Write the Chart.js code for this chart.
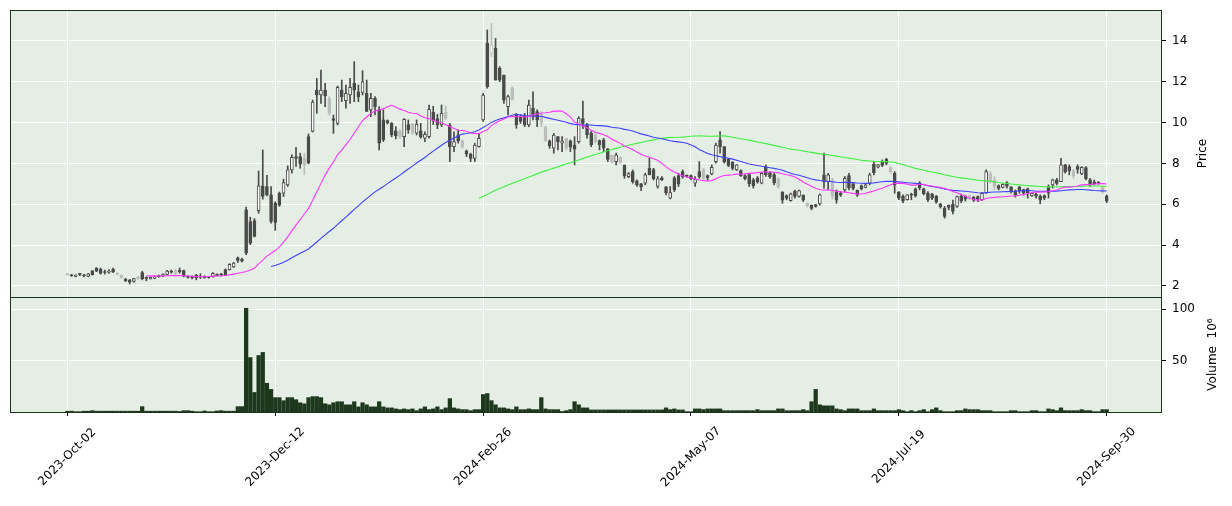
<!DOCTYPE html>
<html>
<head>
<meta charset="utf-8">
<script src="https://cdn.jsdelivr.net/npm/chart.js@4.4.0/dist/chart.umd.min.js"></script>
<style>
  html, body { margin: 0; padding: 0; background: #ffffff; }
  #wrap { position: relative; width: 1232px; height: 506px; }
</style>
</head>
<body>
<div id="wrap"><canvas id="chart" width="1232" height="506"></canvas></div>
<script>
// trading-day index of each labelled tick, and its label
const tickIndex = [0, 50, 100, 150, 200, 250];
const tickLabels = ['2023-Oct-02', '2023-Dec-12', '2024-Feb-26', '2024-May-07', '2024-Jul-19', '2024-Sep-30'];
const priceTicks = [2, 4, 6, 8, 10, 12, 14];
const volumeTicks = [50, 100];

const opens = [
  2.58,2.53,2.47,2.59,2.53,2.47,2.74,2.88,2.82,2.70,
  2.66,2.82,2.62,2.52,2.33,2.30,2.22,2.45,2.65,2.40,
  2.34,2.37,2.49,2.48,2.57,2.71,2.74,2.76,2.75,2.48,
  2.45,2.52,2.48,2.47,2.45,2.45,2.56,2.55,2.80,2.80,
  2.93,3.38,3.30,5.73,5.15,5.20,5.69,6.90,6.87,6.46,
  6.05,6.54,6.54,6.95,7.68,8.33,8.33,8.25,9.31,9.56,
  11.59,11.35,11.59,11.19,10.20,9.96,11.59,11.07,11.35,11.92,
  11.51,11.48,11.43,10.62,11.19,10.62,10.13,10.10,9.96,9.60,
  9.60,9.31,9.90,9.95,9.48,9.60,9.23,9.31,10.50,10.20,
  9.88,10.50,9.88,8.82,9.40,9.10,8.60,8.45,8.25,8.82,
  10.13,13.88,13.39,13.63,12.66,12.33,10.78,11.70,10.40,10.30,
  10.30,9.88,10.70,10.54,10.45,9.80,9.10,8.74,9.31,8.99,
  9.23,9.10,8.90,9.07,10.20,9.90,9.50,9.40,9.12,9.15,
  8.70,8.40,8.09,8.30,7.90,7.35,7.60,7.15,7.00,7.03,
  7.76,7.70,6.87,7.30,6.85,6.30,7.30,7.40,7.60,7.42,
  7.40,7.03,7.60,7.70,7.40,7.49,8.09,9.15,8.82,8.20,
  8.05,7.68,7.65,7.40,7.45,7.20,7.30,7.03,7.85,7.55,
  7.45,7.25,6.60,6.42,6.18,6.65,6.38,6.45,6.05,5.95,
  5.98,6.02,7.44,7.11,7.20,6.60,6.55,6.70,7.40,7.00,
  6.68,6.90,6.83,7.03,7.95,7.81,8.10,8.20,7.80,7.52,
  6.60,6.40,6.22,6.50,6.75,7.05,6.75,6.55,6.50,6.40,
  6.00,5.80,5.95,6.00,5.89,6.40,6.40,6.42,6.35,6.38,
  6.22,6.54,7.50,7.20,6.92,6.83,7.05,6.85,6.65,6.85,
  6.72,6.75,6.41,6.50,6.40,6.42,6.87,6.95,7.20,7.11,
  7.93,7.85,7.65,7.85,7.49,7.80,7.20,7.10,7.08,6.85,
  6.40
];
const highs = [
  2.62,2.57,2.55,2.62,2.57,2.62,2.76,2.90,2.88,2.78,
  2.80,2.88,2.65,2.54,2.38,2.32,2.38,2.47,2.72,2.45,
  2.45,2.48,2.53,2.60,2.76,2.78,2.83,2.88,2.78,2.50,
  2.50,2.57,2.60,2.50,2.47,2.65,2.60,2.62,2.83,3.09,
  3.15,3.42,3.36,5.86,5.37,5.30,7.63,8.66,7.42,6.87,
  6.13,6.60,7.23,7.88,8.42,8.79,8.50,8.50,9.44,11.10,
  12.16,12.57,11.92,11.27,10.37,11.79,12.08,11.84,12.16,12.98,
  11.84,12.54,12.08,11.43,11.27,10.78,10.62,10.13,10.00,9.80,
  9.65,10.20,10.13,9.96,10.13,9.96,9.55,10.86,10.80,10.40,
  10.86,10.80,9.96,9.55,9.64,9.15,8.66,8.50,8.99,9.47,
  11.43,14.53,14.85,14.12,12.74,12.33,11.35,11.75,10.45,10.37,
  10.45,11.10,11.51,10.62,10.54,9.80,9.15,9.47,9.31,9.31,
  9.23,9.15,9.31,10.29,11.05,9.96,9.56,9.56,9.15,9.23,
  8.74,8.42,8.50,8.33,7.93,7.55,7.68,7.19,7.03,7.52,
  8.25,7.76,7.36,7.36,6.87,6.87,7.36,7.52,7.68,7.44,
  7.44,7.36,8.09,7.76,7.44,7.93,8.99,9.56,8.82,8.25,
  8.09,7.95,7.68,7.44,7.52,7.27,7.36,7.54,7.93,7.60,
  7.52,7.30,6.62,6.46,6.55,6.70,6.70,6.46,6.08,5.97,
  6.00,6.50,8.50,7.52,7.27,6.70,6.62,7.36,7.52,7.03,
  6.70,6.95,7.00,7.52,8.09,7.95,8.17,8.25,7.84,7.60,
  6.62,6.46,6.48,6.54,6.79,7.11,6.79,6.62,6.54,6.43,
  6.05,5.89,5.97,6.21,6.40,6.50,6.42,6.46,6.38,6.41,
  6.58,7.68,7.60,7.36,6.95,7.00,7.11,6.87,6.70,6.87,
  6.74,6.79,6.56,6.54,6.46,6.46,6.95,7.23,7.27,8.25,
  7.95,7.93,7.71,7.93,7.84,7.84,7.27,7.19,7.11,6.87,
  6.46
];
const lows = [
  2.53,2.47,2.45,2.50,2.44,2.45,2.53,2.70,2.58,2.58,
  2.62,2.65,2.55,2.38,2.22,2.10,2.18,2.32,2.30,2.25,
  2.33,2.35,2.43,2.45,2.55,2.62,2.50,2.62,2.45,2.38,
  2.34,2.30,2.36,2.38,2.38,2.43,2.49,2.48,2.50,2.78,
  2.90,3.15,3.18,3.53,4.02,4.40,5.56,6.25,6.41,5.07,
  4.72,5.90,6.38,6.87,7.52,7.85,7.76,7.44,7.98,9.54,
  10.45,10.94,10.78,10.37,9.47,9.88,11.02,10.70,10.94,11.02,
  11.02,11.35,10.54,10.29,10.37,8.66,9.07,9.93,9.30,9.20,
  9.22,8.82,9.47,9.40,9.39,9.23,9.07,9.23,9.90,9.70,
  9.80,10.15,8.09,8.58,8.99,8.74,8.33,8.09,8.09,8.79,
  10.05,11.68,13.23,12.08,12.00,10.94,10.37,11.10,9.72,9.96,
  9.80,9.80,10.13,9.80,9.80,9.07,8.74,8.50,8.66,8.58,
  8.66,8.58,7.93,8.99,9.70,9.23,8.82,8.99,8.66,8.58,
  8.09,8.01,7.93,8.01,7.27,7.30,7.03,6.87,6.67,6.95,
  7.44,7.19,6.79,7.16,6.46,6.26,6.62,6.87,7.27,7.32,
  7.19,6.87,7.27,7.19,7.19,7.44,8.01,8.50,8.01,7.84,
  7.68,7.65,7.36,7.19,6.87,6.79,7.03,7.00,7.36,7.27,
  6.95,6.79,6.05,6.22,6.15,6.30,6.35,6.13,5.86,5.73,
  5.86,5.95,6.79,6.70,6.25,6.05,6.38,6.62,6.70,6.70,
  6.38,6.70,6.80,6.95,7.44,7.78,7.84,7.93,7.52,6.54,
  6.22,6.08,6.20,6.22,6.35,6.70,6.46,6.13,6.22,6.05,
  5.81,5.32,5.73,5.53,5.85,6.08,6.15,6.22,6.13,6.13,
  6.18,6.54,7.03,6.70,6.70,6.80,6.79,6.54,6.35,6.54,
  6.46,6.30,6.38,6.30,6.02,6.22,6.30,6.79,6.95,7.11,
  7.52,7.44,7.27,7.52,7.45,7.19,6.87,6.95,6.98,6.54,
  6.08
];
const closes = [
  2.55,2.50,2.53,2.57,2.50,2.60,2.55,2.72,2.62,2.66,
  2.72,2.70,2.56,2.40,2.25,2.18,2.36,2.34,2.36,2.37,
  2.42,2.45,2.46,2.58,2.73,2.68,2.60,2.70,2.48,2.42,
  2.40,2.40,2.44,2.41,2.42,2.62,2.52,2.53,2.55,3.06,
  3.12,3.25,3.22,3.61,4.10,4.42,6.90,6.38,6.46,5.16,
  5.11,5.95,7.06,7.68,8.30,8.24,7.98,7.93,8.01,11.00,
  11.35,11.59,11.30,10.45,10.10,11.72,11.27,11.43,11.72,11.59,
  11.27,12.00,10.54,11.19,10.78,8.99,9.15,10.00,9.40,9.35,
  9.30,10.16,9.64,9.50,9.93,9.30,9.42,10.65,10.10,9.90,
  10.45,10.20,8.82,9.07,9.10,8.82,8.45,8.25,8.90,9.23,
  11.35,11.76,13.80,12.08,12.08,11.10,11.27,11.12,9.90,10.05,
  9.90,10.86,10.30,10.13,10.00,9.10,8.85,9.39,9.07,9.11,
  8.74,8.80,8.70,10.21,9.96,9.40,8.90,9.05,8.90,8.74,
  8.20,8.05,8.41,8.05,7.40,7.50,7.10,6.95,6.85,7.44,
  7.44,7.25,7.24,7.20,6.55,6.57,6.70,7.00,7.35,7.36,
  7.25,7.22,7.35,7.25,7.30,7.81,8.90,8.82,8.09,7.90,
  7.75,7.93,7.40,7.25,7.00,6.90,7.10,7.52,7.45,7.35,
  7.05,6.85,6.20,6.30,6.51,6.38,6.67,6.20,5.92,5.80,
  5.90,6.46,7.11,7.44,6.40,6.20,6.45,7.27,6.80,6.78,
  6.45,6.75,6.95,7.44,7.55,7.93,7.90,8.00,7.58,6.95,
  6.30,6.15,6.46,6.45,6.42,6.80,6.52,6.22,6.30,6.10,
  5.88,5.40,5.85,5.65,6.38,6.15,6.25,6.30,6.20,6.25,
  6.54,7.60,7.10,6.85,6.78,6.98,6.88,6.62,6.45,6.65,
  6.55,6.55,6.54,6.40,6.20,6.30,6.54,7.19,7.02,7.93,
  7.60,7.65,7.40,7.70,7.81,7.25,6.95,7.00,7.02,6.60,
  6.15
];
// volume in millions
const volumes = [
  0.8,0.8,0.3,0.3,0.8,0.8,1.3,0.8,0.8,0.8,
  0.8,0.8,0.8,0.8,0.8,0.8,0.8,0.8,5.2,0.8,
  0.8,0.8,0.8,0.8,0.8,0.8,0.8,0.5,1.3,1.3,
  0.8,0.3,0.3,1.0,0.3,0.3,1.0,1.3,0.8,0.8,
  0.8,5.2,5.2,101,53,19,55,58,28,22,
  14,14,11,14,14,12,9,8,14,15,
  15,14,8,7,9,10,10,7,7,10,
  5,9,7,5,5,10,5,4,4,3,
  2.3,3,2.3,3,1.3,3,5,2.3,3,5,
  2.3,4,13,4,3,2.3,2.3,1.3,2.3,2.3,
  17,18,11,7,4,4,3,2.3,5,2.3,
  2.3,3,2.3,2.3,14,3,2.3,2.3,2.3,0.5,
  1.3,2.3,10,7,4,4,2,2,2,2,
  2,2,2,2,2,2,2,2,2,2,
  2,2,2,2,4,2.3,3,2,2,0.3,
  0.3,3,3,2.3,3,3,3,3,1.3,1.3,
  1.3,1.3,1.3,1.3,1.3,1.3,2.3,1.3,1.3,1.3,
  1.3,3,3,1.3,1.3,1.3,1.3,2.3,1.3,10,
  22,7,6,6,6,3,2.3,1.3,3,3,
  3,1.3,1.3,1.3,3,1.3,1.3,1.3,1.3,1.3,
  2.3,1.3,0.3,1.3,0.3,1.3,2.3,0.3,2.3,4,
  1.3,0.3,0.3,0.3,1.3,1.3,3,2.3,2.3,2.3,
  1.3,1.3,1.3,0.3,0.3,0.3,0.3,1.3,1.3,0.3,
  0.3,0.3,1.3,1.3,0.3,0.3,3,2.3,1.3,4,
  1.3,1.3,1.3,1.3,2.3,1.3,1.3,0.3,0.3,2.3,
  2.3
];
// candles drawn in the light grey shade
const greyDays = [0,12,13,17,26,57,63,80,83,91,95,102,107,114,115,120,127,131,133,153,171,178,184,198,217,222,223,242,249];
const maWindows = [20, 50, 100];
const maColors = ['#ff33ff', '#4040ff', '#40f040'];

const panelColor = '#e4eee4';
const frameColor = '#1b341b';
const candleColor = '#4a4a4a';
const greyColor = '#bdbdbd';
const hollowColor = '#ffffff';
const volumeColor = '#1d381d';

function movingAverage(values, n) {
  const out = [];
  let sum = 0;
  values.forEach((v, i) => {
    sum += v;
    if (i >= n) sum -= values[i - n];
    if (i >= n - 1) out.push({ x: i, y: sum / n });
  });
  return out;
}

const edge = closes.map((c, i) => greyDays.includes(i) ? greyColor : candleColor);
const fill = closes.map((c, i) => c > opens[i] ? hollowColor : edge[i]);

const datasets = [
  {
    type: 'bar', label: 'wick', yAxisID: 'y', order: 5, grouped: false,
    data: closes.map((c, i) => ({ x: i, y: [lows[i], highs[i]] })),
    backgroundColor: edge, barThickness: 1, minBarLength: 1
  },
  {
    type: 'bar', label: 'body', yAxisID: 'y', order: 4, grouped: false,
    data: closes.map((c, i) => ({ x: i, y: [opens[i], c] })),
    backgroundColor: fill, borderColor: edge, borderWidth: 1, borderSkipped: false,
    barThickness: 3, minBarLength: 1
  },
  {
    type: 'bar', label: 'volume', yAxisID: 'yv', order: 6, grouped: false,
    data: volumes.map((v, i) => ({ x: i, y: v })),
    backgroundColor: volumeColor, barThickness: 3.6
  }
];
maWindows.forEach((w, k) => {
  datasets.push({
    type: 'line', label: 'mav' + w, yAxisID: 'y', order: 1 + k,
    data: movingAverage(closes, w),
    borderColor: maColors[k], borderWidth: 1.1, pointRadius: 0, tension: 0
  });
});

function rotatedText(ctx, text, x, y, angle) {
  ctx.save();
  ctx.translate(x, y);
  ctx.rotate(angle);
  ctx.fillText(text, 0, 0);
  ctx.restore();
}

const panels = {
  id: 'panels',
  beforeDraw(chart) {
    const { ctx, chartArea: a } = chart;
    ctx.save();
    ctx.fillStyle = '#ffffff';
    ctx.fillRect(0, 0, chart.width, chart.height);
    ctx.fillStyle = panelColor;
    ctx.fillRect(a.left, a.top, a.right - a.left, a.bottom - a.top);
    ctx.restore();
  },
  afterDraw(chart) {
    const { ctx, chartArea: a, scales } = chart;
    ctx.save();
    ctx.strokeStyle = frameColor;
    ctx.lineWidth = 1;
    [scales.y, scales.yv].forEach(s => {
      ctx.strokeRect(Math.round(a.left) + 0.5, Math.round(s.top) + 0.5,
        Math.round(a.right - a.left) - 1, Math.round(s.bottom - s.top));
    });
    ctx.fillStyle = '#000000';
    ctx.font = '12px "DejaVu Sans"';
    ctx.textAlign = 'center';
    ctx.textBaseline = 'middle';
    rotatedText(ctx, 'Price', 1203, (scales.y.top + scales.y.bottom) / 2, -Math.PI / 2);
    rotatedText(ctx, 'Volume  10\u2076', 1213, (scales.yv.top + scales.yv.bottom) / 2, -Math.PI / 2);
    tickIndex.forEach((v, k) => {
      rotatedText(ctx, tickLabels[k], scales.x.getPixelForValue(v), 457, -Math.PI / 4);
    });
    ctx.restore();
  }
};

const tickFont = { family: 'DejaVu Sans', size: 12 };
function fitRightAxis(s) {
  s.width = 70;
  s.paddingTop = 0;
  s.paddingBottom = 0;
}

new Chart(document.getElementById('chart'), {
  type: 'bar',
  data: { datasets },
  plugins: [panels],
  options: {
    responsive: false,
    animation: false,
    events: [],
    layout: { padding: { left: 10, top: 10, right: 0, bottom: 0 } },
    plugins: { legend: { display: false }, tooltip: { enabled: false } },
    scales: {
      x: {
        type: 'linear', position: 'bottom', min: -13.8, max: 263.3, offset: false,
        afterBuildTicks: s => { s.ticks = tickIndex.map(v => ({ value: v })); },
        afterFit: s => { s.height = 94; s.paddingLeft = 0; s.paddingRight = 0; },
        ticks: { display: false },
        grid: { offset: false, color: '#ffffff', lineWidth: 1, tickColor: '#000000', tickLength: 4 },
        border: { display: false }
      },
      y: {
        type: 'linear', position: 'right', stack: 'panels', stackWeight: 287,
        min: 1.46, max: 15.51,
        afterBuildTicks: s => { s.ticks = priceTicks.map(v => ({ value: v })); },
        afterFit: fitRightAxis,
        ticks: { color: '#000000', font: tickFont, padding: 6 },
        grid: { color: '#ffffff', lineWidth: 1, tickColor: '#000000', tickLength: 4 },
        border: { display: false }
      },
      yv: {
        type: 'linear', position: 'right', stack: 'panels', stackWeight: 115,
        min: 0, max: 112,
        afterBuildTicks: s => { s.ticks = volumeTicks.map(v => ({ value: v })); },
        afterFit: fitRightAxis,
        ticks: { color: '#000000', font: tickFont, padding: 6 },
        grid: { color: '#ffffff', lineWidth: 1, tickColor: '#000000', tickLength: 4 },
        border: { display: false }
      }
    }
  }
});
</script>
</body>
</html>
